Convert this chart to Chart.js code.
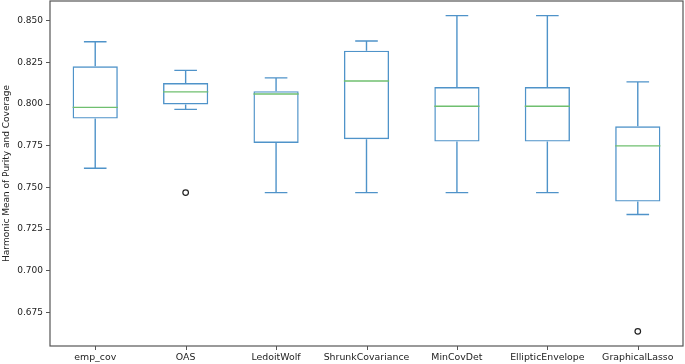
<!DOCTYPE html>
<html>
<head>
<meta charset="utf-8">
<script src="https://cdn.jsdelivr.net/npm/chart.js@4"></script>
<style>
  html, body { margin: 0; padding: 0; background: #fff; }
  #wrap { width: 685px; height: 364px; }
</style>
</head>
<body>
<div id="wrap"><canvas id="boxChart"></canvas></div>
<script>
// data
const categories = ['emp_cov', 'OAS', 'LedoitWolf', 'ShrunkCovariance', 'MinCovDet', 'EllipticEnvelope', 'GraphicalLasso'];
const whiskerLow  = [0.7615, 0.7968, 0.7469, 0.7469, 0.7469, 0.7469, 0.7338];
const q1          = [0.7913, 0.7998, 0.7767, 0.7789, 0.7775, 0.7775, 0.7415];
const medians     = [0.7980, 0.8073, 0.8060, 0.8138, 0.7987, 0.7987, 0.7749];
const q3          = [0.8226, 0.8126, 0.8077, 0.8320, 0.8102, 0.8102, 0.7867];
const whiskerHigh = [0.8374, 0.8202, 0.8157, 0.8378, 0.8530, 0.8530, 0.8133];
const outliers    = [[], [0.7469], [], [], [], [], [0.6637]];
const yTicks = [0.675, 0.700, 0.725, 0.750, 0.775, 0.800, 0.825, 0.850];

const boxColor = '#4f93c9';
const medianColor = '#6fbf6f';
const frameColor = '#555';

const boxPlugin = {
    id: 'boxExtras',
    afterDatasetsDraw(chart) {
        const ctx = chart.ctx;
        const x = chart.scales.x;
        const y = chart.scales.y;
        const a = chart.chartArea;
        const step = x.getPixelForValue(1) - x.getPixelForValue(0);
        const boxHalf = step * 0.25;
        const capHalf = step * 0.125;
        ctx.save();
        ctx.lineWidth = 1.4;
        categories.forEach((c, i) => {
            const cx = x.getPixelForValue(i);
            ctx.strokeStyle = boxColor;
            ctx.beginPath();
            // whiskers
            ctx.moveTo(cx, y.getPixelForValue(q3[i]));
            ctx.lineTo(cx, y.getPixelForValue(whiskerHigh[i]));
            ctx.moveTo(cx, y.getPixelForValue(q1[i]));
            ctx.lineTo(cx, y.getPixelForValue(whiskerLow[i]));
            // caps
            ctx.moveTo(cx - capHalf, y.getPixelForValue(whiskerHigh[i]));
            ctx.lineTo(cx + capHalf, y.getPixelForValue(whiskerHigh[i]));
            ctx.moveTo(cx - capHalf, y.getPixelForValue(whiskerLow[i]));
            ctx.lineTo(cx + capHalf, y.getPixelForValue(whiskerLow[i]));
            ctx.stroke();
            // median
            ctx.strokeStyle = medianColor;
            ctx.beginPath();
            ctx.moveTo(cx - boxHalf, y.getPixelForValue(medians[i]));
            ctx.lineTo(cx + boxHalf, y.getPixelForValue(medians[i]));
            ctx.stroke();
            // fliers
            ctx.strokeStyle = '#222';
            ctx.lineWidth = 1.2;
            outliers[i].forEach(v => {
                ctx.beginPath();
                ctx.arc(cx, y.getPixelForValue(v), 2.8, 0, Math.PI * 2);
                ctx.stroke();
            });
            // x tick mark
            ctx.strokeStyle = frameColor;
            ctx.lineWidth = 1;
            ctx.beginPath();
            ctx.moveTo(Math.round(cx) + 0.5, a.bottom);
            ctx.lineTo(Math.round(cx) + 0.5, a.bottom + 4);
            ctx.stroke();
            ctx.lineWidth = 1.4;
        });
        // frame
        ctx.strokeStyle = frameColor;
        ctx.lineWidth = 1.2;
        ctx.strokeRect(a.left, a.top, a.right - a.left, a.bottom - a.top);
        ctx.restore();
    }
};

const canvas = document.getElementById('boxChart');
new Chart(canvas.getContext('2d'), {
    type: 'bar',
    data: {
        labels: categories,
        datasets: [{
            data: categories.map((c, i) => [q1[i], q3[i]]),
            backgroundColor: 'rgba(0,0,0,0)',
            borderColor: boxColor,
            borderWidth: 1.4,
            borderSkipped: false,
            barPercentage: 0.5,
            categoryPercentage: 1
        }]
    },
    options: {
        responsive: true,
        maintainAspectRatio: false,
        animation: false,
        layout: { padding: { top: 1, right: 2, left: 0, bottom: 0 } },
        plugins: {
            legend: { display: false },
            tooltip: { enabled: false }
        },
        scales: {
            x: {
                grid: { display: true, offset: false, drawOnChartArea: false, tickLength: 4, color: 'rgba(0,0,0,0)' },
                border: { display: false },
                ticks: { color: '#222', padding: 2, font: { family: 'DejaVu Sans', size: 9.4 }, maxRotation: 0, autoSkip: false },
                afterFit(scale) {
                    scale.height = 18;
                    scale.paddingLeft = 0;
                    scale.paddingRight = 0;
                }
            },
            y: {
                min: 0.6549,
                max: 0.8618,
                grid: { display: true, drawOnChartArea: false, tickLength: 4, color: frameColor },
                border: { display: false },
                title: {
                    display: true,
                    text: 'Harmonic Mean of Purity and Coverage',
                    color: '#222',
                    font: { family: 'DejaVu Sans', size: 9 },
                    padding: { top: 1, bottom: 2 }
                },
                ticks: {
                    color: '#222',
                    padding: 3,
                    font: { family: 'DejaVu Sans', size: 9 },
                    callback: v => v.toFixed(3)
                },
                afterBuildTicks(scale) { scale.ticks = yTicks.map(v => ({ value: v })); },
                afterFit(scale) {
                    scale.width = 50;
                    scale.paddingTop = 0;
                    scale.paddingBottom = 0;
                }
            }
        }
    },
    plugins: [boxPlugin]
});
</script>
</body>
</html>
